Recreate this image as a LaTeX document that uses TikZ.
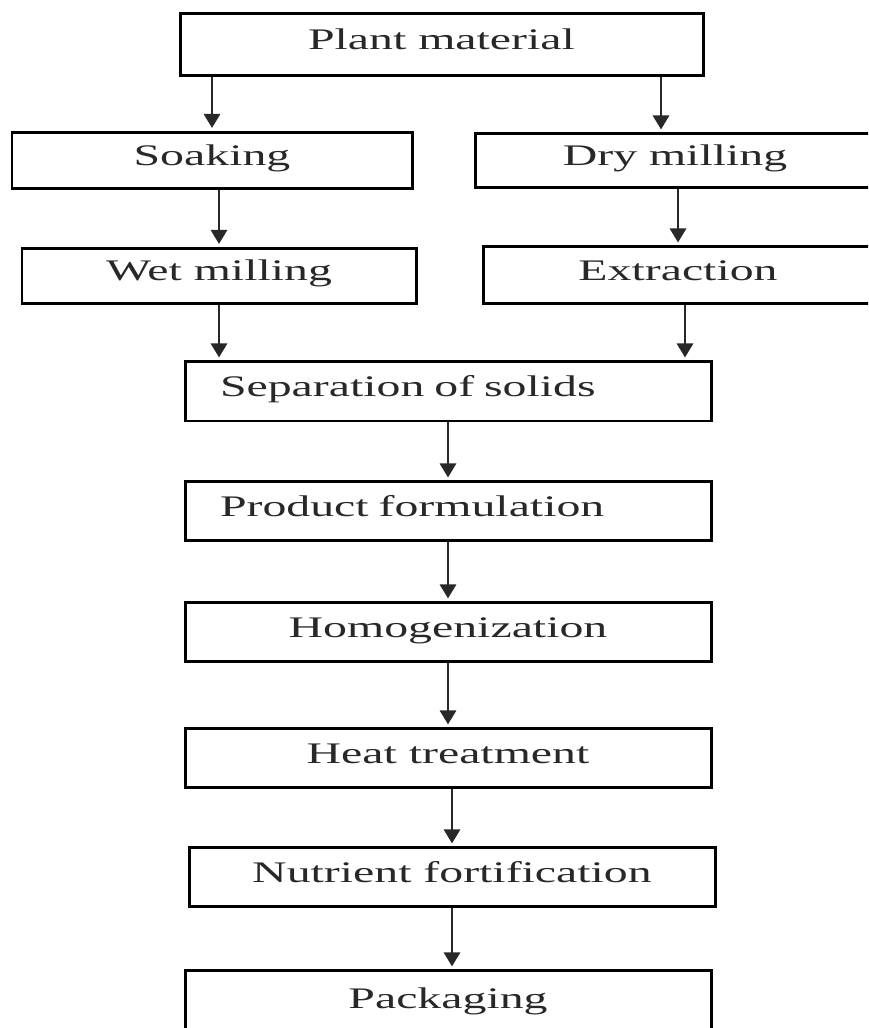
\documentclass[tikz,border=0pt]{standalone}
\usepackage{fontspec}
\setmainfont{Liberation Serif}[FakeStretch=1.6]
\usetikzlibrary{arrows.meta, positioning}
\definecolor{inkgray}{RGB}{40, 40, 40}

\begin{document}
\begin{tikzpicture}[
  x=0.1mm, y=-0.1mm,
  box/.style={rectangle, draw=black, line width=0.85pt, fill=white, minimum height=5.9mm, inner sep=0pt, align=center, text height=2mm, text depth=1mm, text=inkgray, font=\fontsize{8.5}{10}\selectfont},
  wide/.style={box, minimum width=52.6mm},
  half/.style={box, minimum width=40mm},
  indented/.style={wide, text width=45.6mm, align=left, inner xsep=3.5mm},
  arr/.style={-{Triangle[length=1.4mm, width=1.6mm]}, line width=0.8pt, draw=inkgray, shorten >=0.3mm}
]

  \useasboundingbox (0,0) rectangle (868,1028);
  \clip (0,0) rectangle (868,1028);

  \node[wide, minimum width=52.3mm, minimum height=6.2mm] (plant) at (441.5,45) {Plant material};

  \node[half, minimum height=5.6mm] (soak) at (212,160.5) {Soaking};
  \node[half, minimum height=5.4mm] (dry) at (675,161) {Dry milling};

  \node[half, minimum width=39.4mm, minimum height=5.5mm] (wet) at (219,276) {Wet milling};
  \node[half, minimum width=39mm, minimum height=5.7mm] (extr) at (678,275.5) {Extraction};

  \node[indented] (sep) at (448,391.5) {Separation of solids};
  \node[indented, below=5.8mm of sep] (prod) {Product formulation};
  \node[wide, below=5.9mm of prod] (homo) {Homogenization};
  \node[wide, below=6.4mm of homo] (heat) {Heat treatment};
  \node[wide, below=5.7mm of heat, xshift=0.4mm] (nutr) {Nutrient fortification};
  \node[wide, below=6.1mm of nutr, xshift=-0.4mm, minimum height=6.6mm] (pack) {Packaging};

  \draw[arr] (plant.south -| soak.north) -- (soak.north);
  \draw[arr] ([xshift=-1.4mm]dry.north |- plant.south) -- ([xshift=-1.4mm]dry.north);
  \draw[arr] (soak.south -| wet.north) -- (wet.north);
  \draw[arr] (dry.south -| extr.north) -- (extr.north);
  \draw[arr] (wet.south) -- (wet.south |- sep.north);
  \draw[arr] ([xshift=0.7mm]extr.south) -- ([xshift=0.7mm]extr.south |- sep.north);
  \draw[arr] (sep) -- (prod);
  \draw[arr] (prod) -- (homo);
  \draw[arr] (homo) -- (heat);
  \draw[arr] (heat.south -| nutr.north) -- (nutr.north);
  \draw[arr] (nutr.south) -- (nutr.south |- pack.north);

\end{tikzpicture}
\end{document}
